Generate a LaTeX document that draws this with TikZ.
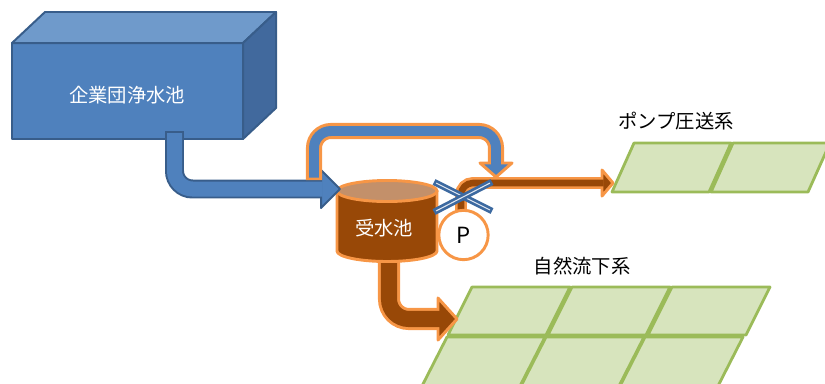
\documentclass[tikz,border=0pt]{standalone}
\usepackage{fontspec}
\newfontfamily\jpfont{Noto Sans CJK JP}
\usepackage{tikz}
\usetikzlibrary{positioning}
\definecolor{TankBlue}{HTML}{4F81BD}
\definecolor{TankTop}{HTML}{6F9ACB}
\definecolor{TankSide}{HTML}{41699D}
\definecolor{TankEdge}{HTML}{385D8A}
\definecolor{PipeOrange}{HTML}{F79646}
\definecolor{PipeBrown}{HTML}{984807}
\definecolor{LidTan}{HTML}{C3906A}
\definecolor{FieldGreen}{HTML}{D7E4BD}
\definecolor{FieldEdge}{HTML}{9BBB59}
\definecolor{ValveBlue}{HTML}{3C69A0}
\tikzset{
  tankface/.style={draw=TankEdge, line width=1.7pt, line join=round},
  fieldcell/.style={draw=FieldEdge, fill=FieldGreen, line width=2.4pt, line join=round},
  labeltext/.style={font=\jpfont\fontsize{16.5}{19}\selectfont, inner sep=0pt},
  % pipes: wide edge stroke first, then a narrower fill stroke on top
  feededge/.style={draw=TankEdge, line width=16.2pt, rounded corners=15.4pt},
  feedfill/.style={draw=TankBlue, line width=12.8pt, rounded corners=15.4pt},
  feedhead/.style={fill=TankBlue, draw=TankEdge, line width=1.7pt, line join=round},
  bypassedge/.style={draw=PipeOrange, line width=13.7pt, rounded corners=14.5pt},
  bypassfill/.style={draw=TankBlue, line width=8.5pt, rounded corners=14.5pt},
  bypasshead/.style={fill=TankBlue, draw=PipeOrange, line width=2.5pt, line join=round},
  pumpedge/.style={draw=PipeOrange, line width=10.2pt, rounded corners=10.2pt},
  pumpfill/.style={draw=PipeBrown, line width=5.6pt, rounded corners=10.2pt},
  gravedge/.style={draw=PipeOrange, line width=18.8pt, rounded corners=17pt},
  gravfill/.style={draw=PipeBrown, line width=13.7pt, rounded corners=17pt},
  brownhead/.style={fill=PipeBrown, draw=PipeOrange, line width=2.5pt, line join=round},
  pumpnode/.style={circle, draw=PipeOrange, fill=white, line width=2.5pt, minimum size=1.48cm, inner sep=0pt, font=\jpfont\fontsize{19}{22}\selectfont},
  valvebar/.style={draw=ValveBlue, line width=5.5pt},
  valvecore/.style={draw=white!85!ValveBlue, line width=0.9pt, shorten <=2pt, shorten >=2pt}
}

\begin{document}
\begin{tikzpicture}[x=0.03cm, y=-0.03cm]
  \useasboundingbox (0,0) rectangle (825,383);

  % Fields
  \foreach \bx in {612,711}
    \draw[fieldcell] (\bx,192) -- ++(97,0) -- ++(22,-49) -- ++(-97,0) -- cycle;
  \foreach \bx in {448,548,648}
    \draw[fieldcell] (\bx,335) -- ++(98,0) -- ++(24,-48) -- ++(-98,0) -- cycle;
  \foreach \bx in {422,521,620}
    \draw[fieldcell] (\bx,386) -- ++(98,0) -- ++(25,-49) -- ++(-98,0) -- cycle;
  \node[labeltext] (pumpsys) at (676,121) {ポンプ圧送系};
  \node[labeltext] (gravsys) at (582,266) {自然流下系};

  % Gravity outlet
  \draw[gravedge] (389,250) -- (389,319) -- (439,319);
  \filldraw[brownhead] (438,298) -- (457,319) -- (438,340) -- cycle;
  \draw[gravfill] (389,250) -- (389,319) -- (440.5,319);

  % Receiving tank
  \filldraw[fill=PipeBrown, draw=PipeOrange, line width=2.5pt, line join=round]
    (337,191) -- (337,251) arc[start angle=180, end angle=0, x radius=50, y radius=10.5] -- (437,191) -- cycle;
  \filldraw[fill=LidTan, draw=PipeOrange, line width=2.5pt] (387,191) ellipse [x radius=50, y radius=10.5];
  \node[labeltext, text=white] (receiver) at (384,228) {受水池};

  % Supply reservoir
  \filldraw[tankface, fill=TankBlue] (12,43) rectangle (243,139);
  \filldraw[tankface, fill=TankTop] (12,43) -- (45,12) -- (276,12) -- (243,43) -- cycle;
  \filldraw[tankface, fill=TankSide] (243,43) -- (276,12) -- (276,108) -- (243,139) -- cycle;
  \node[labeltext, text=white] (reservoir) at (127,95) {企業団浄水池};

  % Feed main
  \draw[feededge] (174.5,131) -- (174.5,189) -- (321,189);
  \filldraw[feedhead] (321,170) -- (340,189) -- (321,208) -- cycle;
  \draw[feedfill] (174.5,133) -- (174.5,189) -- (322.5,189);

  % Pump line
  \draw[pumpedge] (461,215) -- (461,183) -- (602,183);
  \filldraw[brownhead] (602,170) -- (613,183) -- (602,196) -- cycle;
  \draw[pumpfill] (461,215) -- (461,183) -- (603.5,183);
  \node[pumpnode] (pump) at (463.5,235) {P};

  % Valve
  \coordinate (valveA) at (434,182);
  \coordinate (valveB) at (492,211);
  \coordinate (valveC) at (434,212);
  \coordinate (valveD) at (492,182);
  \draw[valvebar] (valveA) -- (valveB);
  \draw[valvecore] (valveA) -- (valveB);
  \draw[valvebar] (valveC) -- (valveD);
  \draw[valvecore] (valveC) -- (valveD);

  % Bypass
  \draw[bypassedge] (314,180) -- (314,131) -- (496,131) -- (496,164);
  \filldraw[bypasshead] (480,163) -- (512,163) -- (496,177) -- cycle;
  \draw[bypassfill] (314,177.5) -- (314,131) -- (496,131) -- (496,165.5);
\end{tikzpicture}
\end{document}
